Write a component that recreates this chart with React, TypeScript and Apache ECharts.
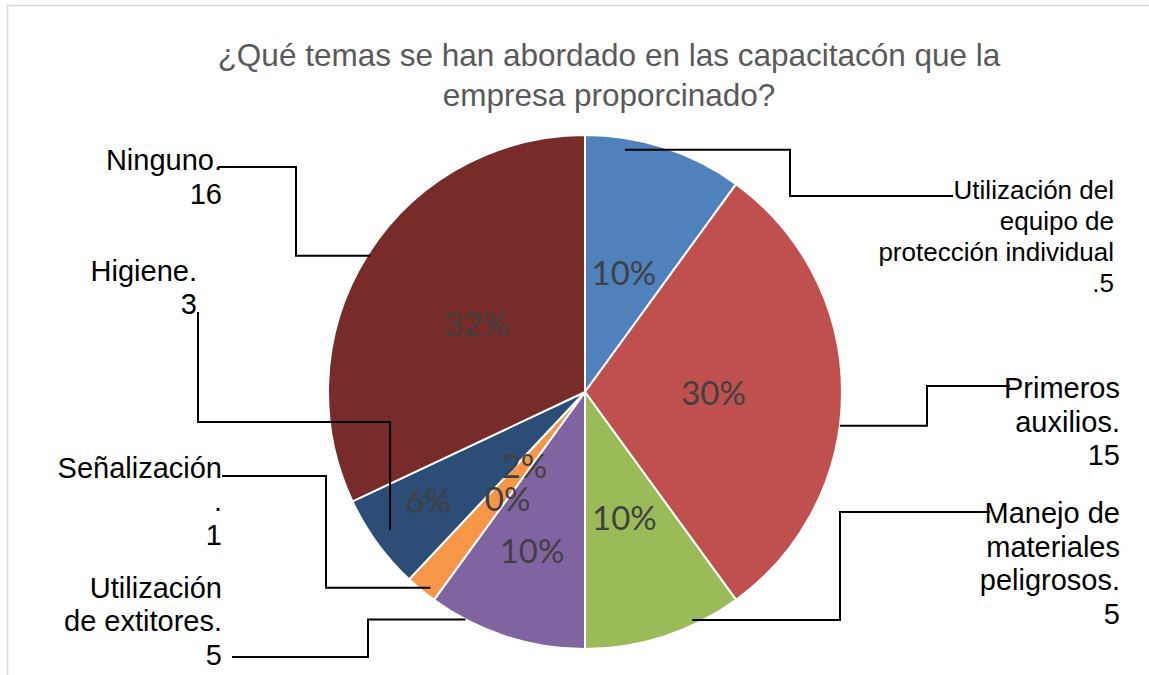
import { useEffect, useRef } from 'react';
import * as echarts from 'echarts';

// ---------- data ----------
const titleText = '¿Qué temas se han abordado en las capacitacón que la\nempresa proporcinado?';
const categories = [
  'Utilización del equipo de protección individual.',
  'Primeros auxilios.',
  'Manejo de materiales peligrosos.',
  'Utilización de extitores.',
  'Señalización.',
  'Otros',
  'Higiene.',
  'Ninguno.',
];
const values = [5, 15, 5, 5, 1, 0, 3, 16];
// wrapped category text as it appears on the outer labels (value appended)
const wrappedNames = [
  'Utilización del\nequipo de\nprotección individual\n.',
  'Primeros\nauxilios.\n',
  'Manejo de\nmateriales\npeligrosos.\n',
  'Utilización\nde extitores.\n',
  'Señalización\n.\n',
  '',
  'Higiene.\n',
  'Ninguno.\n',
];
const colors = ['#4F81BD', '#C0504D', '#9BBB59', '#8064A2', '#F79646', '#4BACC6', '#2C4D75', '#772C2A'];

// ---------- layout ----------
const CX = 585;
const CY = 392;
const R = 257;

// percentage label placement: radius factor + angle nudge (deg)
const pctLayout = [
  { rf: 0.49, dAng: 0 },
  { rf: 0.5, dAng: 0 },
  { rf: 0.51, dAng: 0.5 },
  { rf: 0.65, dAng: 0.5 },
  { rf: 0.37, dAng: 0 },
  { rf: 0.51, dAng: -7 },
  { rf: 0.74, dAng: 1.5 },
  { rf: 0.5, dAng: 0 },
];

// outer label + elbow leader placement
type Leader = { t: number; rf: number; kind: 'hvh' | 'vhv'; mid: number; endX: number; endY: number; lx: number; ly: number } | null;
const leaderLayout: Leader[] = [
  { t: 0.26, rf: 0.955, kind: 'hvh', mid: 790, endX: 953, endY: 196, lx: 1114, ly: 174.5 },
  { t: 0.57, rf: 1.0, kind: 'hvh', mid: 927, endX: 1010, endY: 386, lx: 1120, ly: 371.5 },
  { t: 0.3, rf: 0.98, kind: 'hvh', mid: 840, endX: 990, endY: 512, lx: 1120, ly: 496.5 },
  { t: 0.77, rf: 1.0, kind: 'hvh', mid: 368, endX: 232, endY: 657, lx: 222, ly: 571 },
  { t: 0.32, rf: 0.97, kind: 'hvh', mid: 326, endX: 222, endY: 476, lx: 222, ly: 451 },
  null,
  { t: 0.53, rf: 0.93, kind: 'vhv', mid: 422, endX: 198, endY: 312, lx: 197, ly: 254 },
  { t: 0.5, rf: 0.99, kind: 'hvh', mid: 296, endX: 218, endY: 167, lx: 222, ly: 143.5 },
];

const total = values.reduce((a, b) => a + b, 0);
const sliceGeom = (() => {
  let acc = 0;
  return values.map((v) => {
    const s = (acc / total) * 360;
    acc += v;
    const e = (acc / total) * 360;
    return { s, e };
  });
})();

function polar(deg: number, r: number): [number, number] {
  const a = (deg * Math.PI) / 180;
  return [CX + r * Math.sin(a), CY - r * Math.cos(a)];
}

export default function App() {
  const ref = useRef<HTMLDivElement>(null);
  useEffect(() => {
    if (!ref.current) return;
    const chart = echarts.init(ref.current, undefined, { renderer: 'svg' });
    const option: any = {
      animation: false,
      backgroundColor: '#ffffff',
      title: {
        text: titleText,
        left: 609,
        top: 35,
        textAlign: 'center',
        padding: 0,
        textStyle: {
          fontFamily: '"Liberation Sans", Arial, sans-serif',
          fontSize: 31.5,
          lineHeight: 40,
          fontWeight: 'normal',
          color: '#595959',
        },
      },
      graphic: [
        {
          type: 'rect',
          silent: true,
          z: -10,
          shape: { x: 7.5, y: 5.5, width: 1400, height: 900 },
          style: { fill: 'none', stroke: '#d9d9d9', lineWidth: 1.5 },
        },
      ],
      series: [
        {
          type: 'pie',
          z: 2,
          center: [CX, CY],
          radius: R,
          startAngle: 90,
          clockwise: true,
          avoidLabelOverlap: false,
          percentPrecision: 0,
          silent: true,
          emphasis: { disabled: true },
          data: categories.map((n, i) => ({ name: n, value: values[i], itemStyle: { color: colors[i] } })),
          itemStyle: { borderColor: '#ffffff', borderWidth: 2 },
          label: {
            show: true,
            position: 'inside',
            formatter: '{d}%',
            fontFamily: 'Lato, "Open Sans", sans-serif',
            fontSize: 33,
            color: '#404040',
          },
          labelLine: { show: false },
          labelLayout: (p: any) => {
            const i = p.dataIndex;
            const g = sliceGeom[i];
            const L = pctLayout[i];
            if (!g || !L) return {};
            const [x, y] = polar((g.s + g.e) / 2 + L.dAng, R * L.rf);
            return { x, y, align: 'center', verticalAlign: 'middle' };
          },
        },
        {
          type: 'pie',
          z: 5,
          center: [CX, CY],
          radius: R,
          startAngle: 90,
          clockwise: true,
          avoidLabelOverlap: false,
          silent: true,
          emphasis: { disabled: true },
          data: categories.map((n, i) => {
            const item: any = { name: n, value: values[i] };
            if (!leaderLayout[i]) {
              item.label = { show: false };
              item.labelLine = { show: false };
            } else if (i === 0) {
              item.label = { fontSize: 26, lineHeight: 31 };
            }
            return item;
          }),
          itemStyle: { color: 'rgba(255,255,255,0)', borderWidth: 0 },
          label: {
            show: true,
            position: 'outside',
            formatter: (p: any) => wrappedNames[p.dataIndex] + p.value,
            fontFamily: '"Liberation Sans", Arial, sans-serif',
            fontSize: 29,
            lineHeight: 33.5,
            color: '#000000',
            align: 'right',
            overflow: 'none',
          },
          labelLine: {
            show: true,
            length: 10,
            length2: 10,
            smooth: false,
            lineStyle: { color: '#000000', width: 2 },
          },
          labelLayout: (p: any) => {
            const i = p.dataIndex;
            const L = leaderLayout[i];
            const g = sliceGeom[i];
            if (!L || !g) return {};
            const start = polar(g.s + (g.e - g.s) * L.t, R * L.rf);
            const pts =
              L.kind === 'hvh'
                ? [start, [L.mid, start[1]], [L.mid, L.endY], [L.endX, L.endY]]
                : [start, [start[0], L.mid], [L.endX, L.mid], [L.endX, L.endY]];
            return { x: L.lx, y: L.ly, align: 'right', verticalAlign: 'top', labelLinePoints: pts };
          },
        },
      ],
    };
    chart.setOption(option);
    return () => chart.dispose();
  }, []);
  return (
    <div
      ref={ref}
      style={{ position: 'fixed', left: 0, top: 0, width: 1149, height: 675, background: '#fff' }}
    />
  );
}
